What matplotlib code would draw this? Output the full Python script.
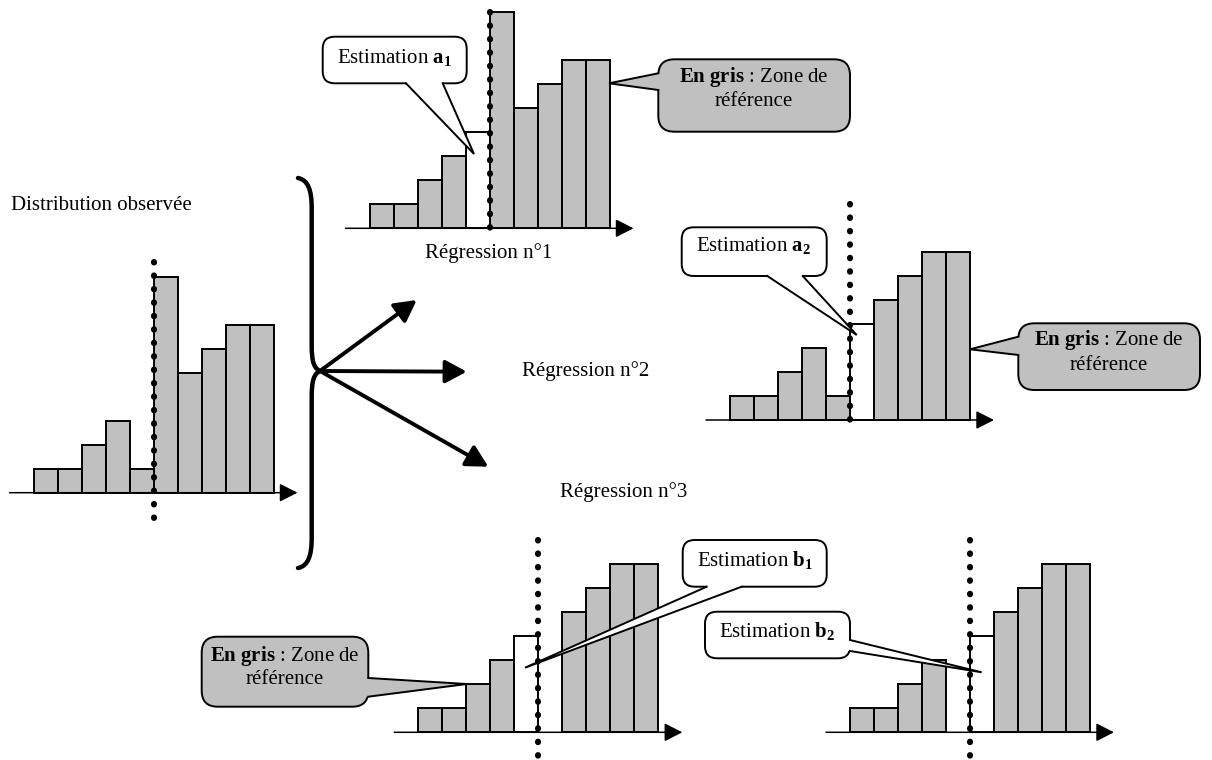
import matplotlib
matplotlib.use("Agg")
import matplotlib.pyplot as plt
from matplotlib.patches import FancyBboxPatch, Polygon, PathPatch
from matplotlib.path import Path

plt.rcParams['font.family'] = ['Liberation Serif', 'DejaVu Serif']
plt.rcParams['mathtext.fontset'] = 'custom'
plt.rcParams['mathtext.rm'] = 'Liberation Serif'
plt.rcParams['mathtext.bf'] = 'Liberation Serif:bold'
plt.rcParams['mathtext.it'] = 'Liberation Serif:italic'

# ---------------- data ----------------
bins = list(range(10))
observed = [1, 1, 2, 3, 1, 9, 5, 6, 7, 7]
reg1 = [1, 1, 2, 3, 4, 9, 5, 6, 7, 7]      # estimation a1 at bin 4
reg2 = [1, 1, 2, 3, 1, 4, 5, 6, 7, 7]      # estimation a2 at bin 5
reg3a = [1, 1, 2, 3, 4, 0, 5, 6, 7, 7]     # estimation b1 at bin 4, bin 5 removed
reg3b = [1, 1, 2, 3, 0, 4, 5, 6, 7, 7]     # estimation b2 at bin 5, bin 4 removed
est_obs, est1, est2, est3a, est3b = None, 4, 5, 4, 5
split = 5

titles = ["Distribution observée", "Régression n°1", "Régression n°2", "Régression n°3"]
label_a1 = r"Estimation $\mathbf{a_1}$"
label_a2 = r"Estimation $\mathbf{a_2}$"
label_b1 = r"Estimation $\mathbf{b_1}$"
label_b2 = r"Estimation $\mathbf{b_2}$"
gray_l1 = r"$\mathbf{En\ gris}$ : Zone de"
gray_l2 = "référence"

GRAY = '#c0c0c0'
W, H = 1212, 760
U = 24.0
FS = 15

fig = plt.figure(figsize=(W / 100, H / 100), dpi=100)


def panel(x0, y0, heights, est, dot_lo, dot_hi):
    L, R, B, T = -1.5, 11.5, -1.5, 10.0
    ax = fig.add_axes([(x0 + L * U) / W, (H - (y0 - B * U)) / H,
                       (R - L) * U / W, (T - B) * U / H], zorder=1)
    ax.set_xlim(L, R)
    ax.set_ylim(B, T)
    ax.axis('off')
    ax.patch.set_visible(False)
    xs = [b for b, h in zip(bins, heights) if h > 0]
    hs = [h for h in heights if h > 0]
    cols = ['white' if b == est else GRAY for b in xs]
    ax.bar(xs, hs, width=1, align='edge', color=cols, edgecolor='black',
           linewidth=1.4, clip_on=False, zorder=2)
    ax.annotate('', xy=(11, 0), xytext=(-1, 0),
                arrowprops=dict(arrowstyle='-|>,head_length=0.55,head_width=0.28',
                                mutation_scale=20, lw=1.1, color='black',
                                shrinkA=0, shrinkB=0), zorder=3)
    ax.plot([split, split], [dot_hi, dot_lo], color='black', lw=4.4,
            linestyle=(0, (0.08, 2.12)), dash_capstyle='round',
            solid_capstyle='round', clip_on=False, zorder=4)
    return ax


panel(33.5, 492.7, observed, est_obs, -1.08, 9.6)
panel(369.5, 228.3, reg1, est1, -0.05, 9.0)
panel(730.0, 420.0, reg2, est2, -0.05, 8.98)
panel(418.3, 732.3, reg3a, est3a, -1.0, 8.0)
panel(850.0, 732.3, reg3b, est3b, -1.0, 8.0)

# ---------------- overlay (pixel coordinates) ----------------
ov = fig.add_axes([0, 0, 1, 1], zorder=5)
ov.set_xlim(0, W)
ov.set_ylim(H, 0)
ov.axis('off')
ov.patch.set_visible(False)


def callout(box, base1, base2, tip, fc, r, inward):
    x0, y0, x1, y1 = box
    ov.add_patch(FancyBboxPatch((x0, y0), x1 - x0, y1 - y0,
                                boxstyle=f"round,pad=0,rounding_size={r}",
                                fc=fc, ec='black', lw=1.4, zorder=1))
    dx, dy = inward
    pts = [(base1[0] + dx, base1[1] + dy), base1, tip, base2,
           (base2[0] + dx, base2[1] + dy)]
    ov.add_patch(Polygon(pts, closed=True, fc=fc, ec='none', zorder=2))
    ov.plot([base1[0], tip[0], base2[0]], [base1[1], tip[1], base2[1]],
            color='black', lw=1.4, zorder=3, solid_joinstyle='miter')


# Estimation a1
callout((322.7, 36.7, 466.7, 83.3), (406, 83.3), (442.7, 83.3), (474, 154),
        'white', 12, (0, -3))
ov.text(394.7, 57, label_a1, fontsize=FS, ha='center', va='center', zorder=4)

# Gray zone 1
callout((658.3, 59.3, 850, 131.7), (658.3, 73.3), (658.3, 90), (609, 83.3),
        GRAY, 16, (3, 0))
ov.text(754, 77, gray_l1, fontsize=FS, ha='center', va='center', zorder=4)
ov.text(754, 102, gray_l2, fontsize=FS, ha='center', va='center', zorder=4)

# Estimation a2
callout((681.7, 227.3, 826.7, 276), (767.3, 276), (802.7, 276), (856.7, 335),
        'white', 12, (0, -3))
ov.text(754, 246, label_a2, fontsize=FS, ha='center', va='center', zorder=4)

# Gray zone 2
callout((1018.3, 323.3, 1200, 390), (1018.3, 336.7), (1018.3, 355), (970, 349.3),
        GRAY, 16, (3, 0))
ov.text(1109, 340, gray_l1, fontsize=FS, ha='center', va='center', zorder=4)
ov.text(1109, 366, gray_l2, fontsize=FS, ha='center', va='center', zorder=4)

# Gray zone 3
callout((201.7, 636.7, 368.3, 706.7), (368.3, 678), (368.3, 696.7), (466.7, 684),
        GRAY, 16, (-3, 0))
ov.text(285, 656, gray_l1, fontsize=FS, ha='center', va='center', zorder=4)
ov.text(285, 680, gray_l2, fontsize=FS, ha='center', va='center', zorder=4)

# Estimation b1
callout((682.7, 540, 826.7, 586.7), (706.7, 586.7), (741.7, 586.7), (525, 667.7),
        'white', 12, (0, -3))
ov.text(754.7, 560, label_b1, fontsize=FS, ha='center', va='center', zorder=4)

# Estimation b2
callout((705, 611.7, 850, 658.3), (850, 640), (850, 651), (981.7, 672.3),
        'white', 12, (-3, 0))
ov.text(777.5, 631, label_b2, fontsize=FS, ha='center', va='center', zorder=4)

# Titles
ov.text(11, 205, titles[0], fontsize=FS, ha='left', va='center')
ov.text(425, 253, titles[1], fontsize=FS, ha='left', va='center')
ov.text(522, 371, titles[2], fontsize=FS, ha='left', va='center')
ov.text(560, 492, titles[3], fontsize=FS, ha='left', va='center')

# Brace
verts = [(298, 178), (308, 180), (311.7, 190), (311.7, 208),
         (311.7, 345),
         (311.7, 362), (314, 368), (320, 371),
         (314, 374), (311.7, 380), (311.7, 397),
         (311.7, 538),
         (311.7, 556), (308, 566), (298, 568)]
codes = [Path.MOVETO, Path.CURVE4, Path.CURVE4, Path.CURVE4,
         Path.LINETO,
         Path.CURVE4, Path.CURVE4, Path.CURVE4,
         Path.CURVE4, Path.CURVE4, Path.CURVE4,
         Path.LINETO,
         Path.CURVE4, Path.CURVE4, Path.CURVE4]
ov.add_patch(PathPatch(Path(verts, codes), fc='none', ec='black', lw=3.2,
                       capstyle='round', joinstyle='round'))

# Arrows from the brace
origin = (320, 371)
for tip in [(416.7, 300), (466.7, 371.7), (488.3, 466.7)]:
    ov.annotate('', xy=tip, xytext=origin,
                arrowprops=dict(arrowstyle='-|>,head_length=0.65,head_width=0.35',
                                mutation_scale=20, lw=2.8, color='black',
                                shrinkA=0, shrinkB=0))

fig.savefig('out.png', dpi=100)
